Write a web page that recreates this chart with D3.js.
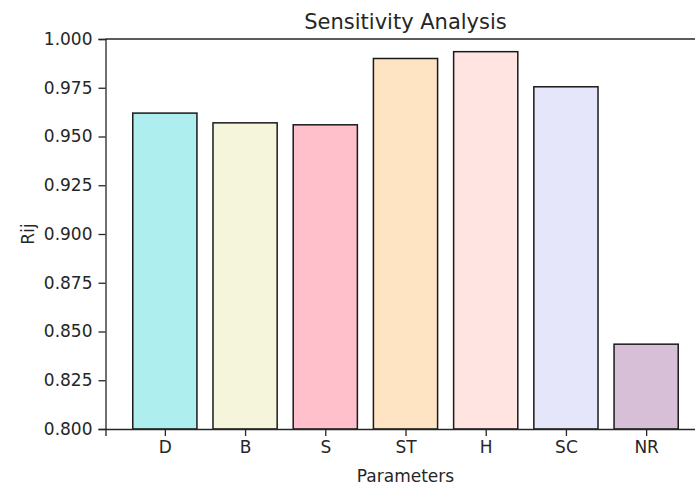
<!DOCTYPE html>
<html lang="en">
  <head>
    <meta charset="UTF-8" />
    <script src="https://cdn.jsdelivr.net/npm/d3@7"></script>
    <style>
      body { margin: 0; background: #fff; }
      text { font-family: "DejaVu Sans", sans-serif; fill: #262626; }
      .tick text { font-size: 17px; }
      .domain, .tick line { stroke: #262626; stroke-width: 1.3; }
    </style>
  </head>
  <body>
    <div id="fig"></div>
    <script>
      const width = 695, height = 487;
      const margins = { top: 39, bottom: 58, left: 105.5, right: -10.5 };

      const params = ["D", "B", "S", "ST", "H", "SC", "NR"];
      const rij = [0.962, 0.957, 0.956, 0.990, 0.9935, 0.9755, 0.8435];
      const colors = ["#AFEEEE", "#F5F5DC", "#FFC0CB", "#FFE4C4", "#FFE4E1", "#E6E6FA", "#D8BFD8"];
      const yTicks = [0.8, 0.825, 0.85, 0.875, 0.9, 0.925, 0.95, 0.975, 1.0];

      const svg = d3.select("#fig").append("svg")
        .attr("width", width)
        .attr("height", height);

      const innerW = width - margins.left - margins.right;
      const innerH = height - margins.top - margins.bottom;

      // matplotlib style: bars at integer positions, width 0.8, 5% margins
      const x = d3.scaleLinear()
        .domain([-0.74, params.length - 1 + 0.74])
        .range([0, innerW]);
      const y = d3.scaleLinear().domain([0.8, 1.0]).range([innerH, 0]);

      const g = svg.append("g")
        .attr("transform", `translate(${margins.left},${margins.top})`);

      g.selectAll("rect.bar")
        .data(params)
        .join("rect")
        .attr("class", "bar")
        .attr("x", (d, i) => x(i - 0.4))
        .attr("width", (d, i) => x(i + 0.4) - x(i - 0.4))
        .attr("y", (d, i) => y(rij[i]))
        .attr("height", (d, i) => y(0.8) - y(rij[i]))
        .attr("fill", (d, i) => colors[i])
        .attr("stroke", "#1a1a1a")
        .attr("stroke-width", 1.5);

      // top spine
      g.append("line")
        .attr("x1", 0).attr("x2", innerW)
        .attr("y1", 0).attr("y2", 0)
        .attr("stroke", "#262626").attr("stroke-width", 1.3);

      g.append("g")
        .call(d3.axisLeft(y).tickValues(yTicks).tickFormat(d3.format(".3f"))
          .tickSizeOuter(0).tickSize(7).tickPadding(6));

      g.append("g")
        .attr("transform", `translate(0,${innerH})`)
        .call(d3.axisBottom(x).tickValues(d3.range(params.length))
          .tickFormat((i) => params[i]).tickSizeOuter(0).tickSize(7).tickPadding(5));

      svg.selectAll(".tick text").style("font-size", "17px");

      g.append("text")
        .attr("x", x(3))
        .attr("y", -10)
        .attr("text-anchor", "middle")
        .style("font-size", "21px")
        .text("Sensitivity Analysis");

      g.append("text")
        .attr("x", x(3))
        .attr("y", innerH + 53)
        .attr("text-anchor", "middle")
        .style("font-size", "17px")
        .text("Parameters");

      svg.append("text")
        .attr("transform", `translate(34,${margins.top + innerH / 2}) rotate(-90)`)
        .attr("text-anchor", "middle")
        .style("font-size", "17px")
        .text("Rij");
    </script>
  </body>
</html>
